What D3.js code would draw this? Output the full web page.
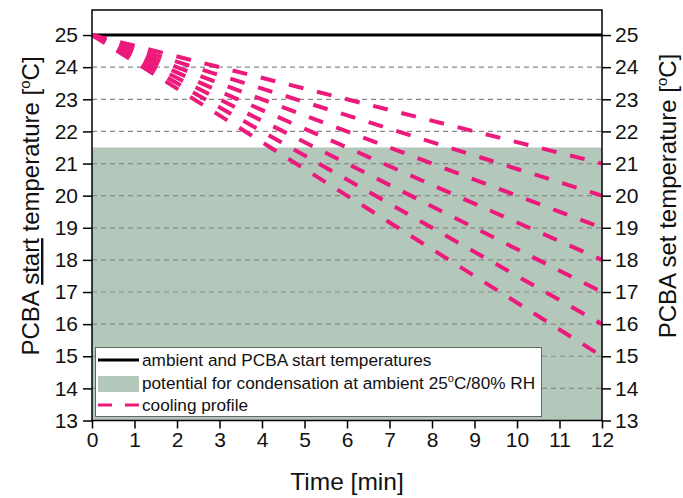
<!DOCTYPE html>
<html>
<head>
<meta charset="utf-8">
<script src="https://cdn.jsdelivr.net/npm/d3@7/dist/d3.min.js"></script>
<style>
  body { margin: 0; background: #fff; }
  text { font-family: "Liberation Sans", Arial, sans-serif; fill: #111; }
</style>
</head>
<body>
<script>
(function () {
  // data
  const xTicks = [0, 1, 2, 3, 4, 5, 6, 7, 8, 9, 10, 11, 12]
  const yTicks = [13, 14, 15, 16, 17, 18, 19, 20, 21, 22, 23, 24, 25]
  const gridLevels = [14, 15, 16, 17, 18, 19, 20, 21, 22, 23, 24]
  const ambientTemp = 25
  const condensationTop = 21.5
  const profileStart = 25
  const profileEnds = [21, 20, 19, 18, 17, 16, 15]
  const timeEnd = 12

  const W = 683, H = 498
  const svg = d3.select('body').append('svg')
                .attr('width', W)
                .attr('height', H)

  const x = d3.scaleLinear().domain([0, 12]).range([92, 602])
  const y = d3.scaleLinear().domain([13, 25.78]).range([420.5, 10])

  // condensation region
  svg.append('rect')
     .attr('x', x(0))
     .attr('y', y(condensationTop))
     .attr('width', x(12) - x(0))
     .attr('height', y(13) - y(condensationTop))
     .attr('fill', '#b3c7bb')

  // grid
  svg.selectAll('line.grid')
     .data(gridLevels)
     .enter()
     .append('line')
     .attr('class', 'grid')
     .attr('x1', x(0)).attr('x2', x(12))
     .attr('y1', d => y(d)).attr('y2', d => y(d))
     .attr('stroke', '#8a8a8a')
     .attr('stroke-width', 1.2)
     .attr('stroke-dasharray', '5,4')

  // ambient line
  svg.append('line')
     .attr('x1', x(0)).attr('x2', x(12))
     .attr('y1', y(ambientTemp)).attr('y2', y(ambientTemp))
     .attr('stroke', '#000')
     .attr('stroke-width', 3)

  // cooling profiles
  svg.selectAll('line.profile')
     .data(profileEnds)
     .enter()
     .append('line')
     .attr('class', 'profile')
     .attr('x1', x(0)).attr('y1', y(profileStart))
     .attr('x2', x(timeEnd)).attr('y2', d => y(d))
     .attr('stroke', '#ec1a7b')
     .attr('stroke-width', 4)
     .attr('stroke-dasharray', '15,14')

  // axes
  const axB = svg.append('g')
                 .attr('transform', `translate(0,${y(13)})`)
                 .call(d3.axisBottom(x).tickValues(xTicks).tickSize(8).tickPadding(4))
  const axL = svg.append('g')
                 .attr('transform', `translate(${x(0)},0)`)
                 .call(d3.axisLeft(y).tickValues(yTicks).tickSize(9).tickPadding(5))
  const axR = svg.append('g')
                 .attr('transform', `translate(${x(12)},0)`)
                 .call(d3.axisRight(y).tickValues(yTicks).tickSize(9).tickPadding(4))
  ;[axB, axL, axR].forEach(g => {
    g.selectAll('.domain').remove()
    g.selectAll('.tick line').attr('stroke', '#000').attr('stroke-width', 1.5)
    g.selectAll('.tick text')
     .attr('font-family', '"Liberation Sans", Arial, sans-serif')
     .attr('font-size', 21)
     .attr('fill', '#111')
  })

  // frame
  svg.append('rect')
     .attr('x', x(0)).attr('y', y(25.78))
     .attr('width', x(12) - x(0))
     .attr('height', y(13) - y(25.78))
     .attr('fill', 'none')
     .attr('stroke', '#000')
     .attr('stroke-width', 1.5)

  // legend
  const leg = svg.append('g')
  leg.append('rect')
     .attr('x', 95.5).attr('y', 347.5)
     .attr('width', 446).attr('height', 69)
     .attr('fill', '#fff')
     .attr('stroke', '#666')
     .attr('stroke-width', 1)
  leg.append('line')
     .attr('x1', 98).attr('x2', 139)
     .attr('y1', 360).attr('y2', 360)
     .attr('stroke', '#000').attr('stroke-width', 3)
  leg.append('rect')
     .attr('x', 98).attr('y', 376)
     .attr('width', 41).attr('height', 16)
     .attr('fill', '#b3c7bb')
  leg.append('line')
     .attr('x1', 98).attr('x2', 139)
     .attr('y1', 405).attr('y2', 405)
     .attr('stroke', '#ec1a7b').attr('stroke-width', 3)
     .attr('stroke-dasharray', '14,13')

  const lt = (yy) => leg.append('text').attr('x', 142).attr('y', yy).attr('font-size', 17.2)
  lt(366).text('ambient and PCBA start temperatures')
  const t2 = lt(389)
  t2.append('tspan').text('potential for condensation at ambient 25')
  t2.append('tspan').attr('font-size', 11).attr('dy', -7).text('o')
  t2.append('tspan').attr('dy', 7).text('C/80% RH')
  lt(411).text('cooling profile')

  // axis titles
  svg.append('text')
     .attr('x', 347).attr('y', 490)
     .attr('text-anchor', 'middle')
     .attr('font-size', 24.5)
     .text('Time [min]')

  const yl = svg.append('text')
                .attr('transform', 'translate(39,206) rotate(-90)')
                .attr('text-anchor', 'middle')
                .attr('font-size', 24)
  yl.append('tspan').text('PCBA ')
  yl.append('tspan').attr('text-decoration', 'underline').text('start')
  yl.append('tspan').text(' temperature [')
  yl.append('tspan').attr('font-size', 15).attr('dy', -9).text('o')
  yl.append('tspan').attr('dy', 9).text('C]')

  const yr = svg.append('text')
                .attr('transform', 'translate(676,196) rotate(-90)')
                .attr('text-anchor', 'middle')
                .attr('font-size', 24)
  yr.append('tspan').text('PCBA set temperature [')
  yr.append('tspan').attr('font-size', 15).attr('dy', -9).text('o')
  yr.append('tspan').attr('dy', 9).text('C]')
})()
</script>
</body>
</html>
